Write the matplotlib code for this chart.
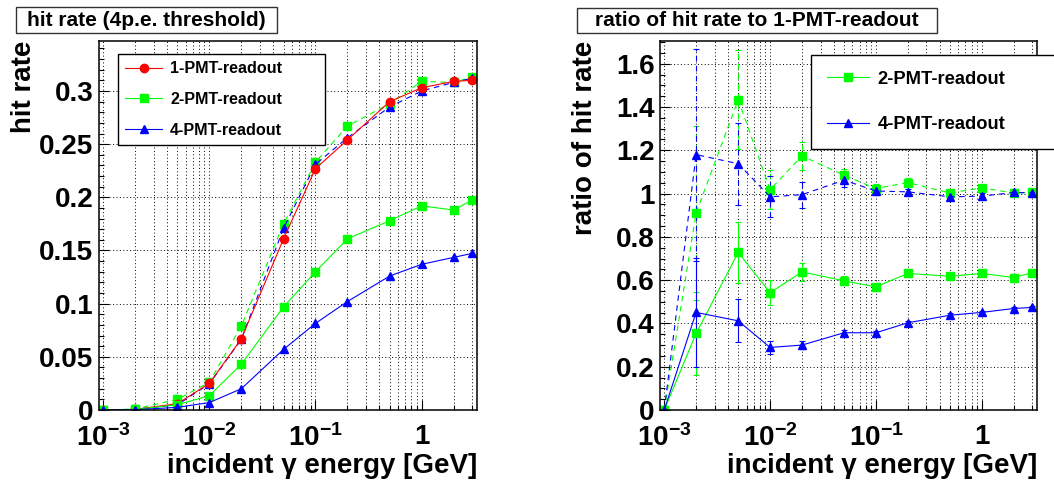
import matplotlib
matplotlib.use('Agg')
import matplotlib.pyplot as plt
from matplotlib.patches import Rectangle
from matplotlib.ticker import FixedLocator, FixedFormatter, MultipleLocator, LogLocator, NullFormatter

plt.rcParams['font.family'] = ['Liberation Sans', 'DejaVu Sans']
plt.rcParams['font.weight'] = 'bold'
plt.rcParams['axes.labelweight'] = 'bold'
plt.rcParams['mathtext.fontset'] = 'custom'
plt.rcParams['mathtext.rm'] = 'Liberation Sans:bold'
plt.rcParams['mathtext.it'] = 'Liberation Sans:bold'
plt.rcParams['mathtext.bf'] = 'Liberation Sans:bold'

# incident gamma energy [GeV]
energy = [1e-3, 2e-3, 5e-3, 1e-2, 2e-2, 5e-2, 0.1, 0.2, 0.5, 1, 2, 3]

# hit rate (4p.e. threshold)
rate_1pmt = [0.0, 0.0006, 0.006, 0.025, 0.067, 0.161, 0.227, 0.254, 0.290, 0.303, 0.309, 0.310]
rate_2pmt = [0.0, 0.0005, 0.005, 0.0135, 0.043, 0.097, 0.130, 0.161, 0.178, 0.192, 0.188, 0.1975]
rate_2pmt_dash = [0.0, 0.001, 0.010, 0.026, 0.079, 0.175, 0.233, 0.267, 0.288, 0.309, 0.308, 0.313]
rate_4pmt = [0.0, 0.0003, 0.0025, 0.007, 0.020, 0.057, 0.0815, 0.102, 0.126, 0.137, 0.1435, 0.1473]
rate_4pmt_dash = [0.0, 0.0005, 0.005, 0.0245, 0.0665, 0.171, 0.231, 0.256, 0.285, 0.300, 0.308, 0.312]

# ratio of hit rate to 1-PMT-readout
ratio_2pmt = [0.0, 0.354, 0.728, 0.542, 0.638, 0.597, 0.569, 0.631, 0.618, 0.631, 0.612, 0.635]
ratio_2pmt_err = [0.0, 0.19, 0.14, 0.057, 0.04, 0.02, 0.015, 0.012, 0.01, 0.01, 0.01, 0.01]
ratio_2pmt_dash = [0.0, 0.91, 1.434, 1.018, 1.174, 1.085, 1.023, 1.051, 1.003, 1.026, 1.003, 1.005]
ratio_2pmt_dash_err = [0.0, 0.40, 0.23, 0.09, 0.063, 0.03, 0.02, 0.02, 0.015, 0.015, 0.015, 0.015]
ratio_4pmt = [0.0, 0.451, 0.412, 0.289, 0.300, 0.357, 0.357, 0.403, 0.438, 0.451, 0.469, 0.474]
ratio_4pmt_err = [0.0, 0.25, 0.10, 0.03, 0.02, 0.012, 0.01, 0.008, 0.008, 0.008, 0.008, 0.008]
ratio_4pmt_dash = [0.0, 1.18, 1.138, 0.985, 0.995, 1.062, 1.012, 1.008, 0.985, 0.988, 1.005, 1.003]
ratio_4pmt_dash_err = [0.0, 0.49, 0.19, 0.095, 0.06, 0.03, 0.02, 0.015, 0.015, 0.015, 0.015, 0.015]

labels = ['1-PMT-readout', '2-PMT-readout', '4-PMT-readout']
xtick_pos = [1e-3, 1e-2, 1e-1, 1]
xtick_lab = [r'$10^{-3}$', r'$10^{-2}$', r'$10^{-1}$', '1']

RED, GREEN, BLUE = '#ff0000', '#00ff00', '#0000ff'
DASH = (0, (5, 4))
LW = 0.8
MS = 6

fig = plt.figure(figsize=(10.54, 4.8), dpi=100)
ax1 = fig.add_axes([0.0939, 0.1458, 0.3587, 0.7688])
ax2 = fig.add_axes([0.6262, 0.1458, 0.3577, 0.7688])


def style_axis(ax, ymax, ymajor, yminor):
    ax.set_xscale('log')
    ax.set_xlim(10 ** -3.04, 10 ** 0.522)
    ax.set_ylim(0, ymax)
    ax.xaxis.set_major_locator(FixedLocator(xtick_pos))
    ax.xaxis.set_major_formatter(FixedFormatter(xtick_lab))
    ax.xaxis.set_minor_locator(LogLocator(base=10, subs=range(2, 10), numticks=20))
    ax.xaxis.set_minor_formatter(NullFormatter())
    ax.yaxis.set_major_locator(MultipleLocator(ymajor))
    ax.yaxis.set_minor_locator(MultipleLocator(yminor))
    ax.tick_params(which='both', direction='in', width=0.8, labelsize=20)
    ax.tick_params(which='major', length=7)
    ax.tick_params(which='minor', length=3.6)
    ax.tick_params(axis='y', pad=4)
    ax.tick_params(axis='x', pad=10)
    ax.grid(which='both', axis='x', ls=(0, (1, 2.5)), color='k', lw=0.7)
    ax.grid(which='major', axis='y', ls=(0, (1, 2.5)), color='k', lw=0.7)
    for s in ax.spines.values():
        s.set_linewidth(1.1)
    ax.set_xlabel(u'incident \u03b3 energy [GeV]', fontsize=20, loc='right')
    ax.xaxis.set_label_coords(1.0, -0.116)


# left: hit rate
style_axis(ax1, 0.347, 0.05, 0.01)
ax1.yaxis.set_major_formatter(plt.FuncFormatter(lambda v, p: '0' if v == 0 else ('%g' % round(v, 3))))
ax1.plot(energy, rate_2pmt_dash, color=GREEN, ls=DASH, lw=LW, marker='s', ms=MS)
ax1.plot(energy, rate_4pmt_dash, color=BLUE, ls=DASH, lw=LW, marker='^', ms=MS)
l1, = ax1.plot(energy, rate_1pmt, color=RED, lw=LW, marker='o', ms=MS)
l2, = ax1.plot(energy, rate_2pmt, color=GREEN, lw=LW, marker='s', ms=MS)
l4, = ax1.plot(energy, rate_4pmt, color=BLUE, lw=LW, marker='^', ms=MS)
ax1.set_ylabel('hit rate', fontsize=20, loc='top')
ax1.yaxis.set_label_coords(-0.165, 1.0)
leg1 = ax1.legend([l1, l2, l4], labels, loc='upper left',
                  bbox_to_anchor=(0.050, 0.724, 0.548, 0.241), mode='expand',
                  fontsize=11.6, fancybox=False, edgecolor='k', framealpha=1,
                  borderpad=0.45, labelspacing=0.98, handlelength=2.3,
                  handletextpad=0.5, borderaxespad=0)
leg1.get_frame().set_linewidth(1.0)

# right: ratio
style_axis(ax2, 1.705, 0.2, 0.05)
ax2.yaxis.set_major_formatter(plt.FuncFormatter(lambda v, p: '0' if v == 0 else ('%g' % round(v, 2))))


def draw_err(ax, y, err, color, marker, dashed):
    eb = ax.errorbar(energy, y, yerr=err, color=color, lw=LW, marker=marker, ms=MS,
                     ls=DASH if dashed else '-', elinewidth=LW, capsize=2, capthick=LW)
    if dashed:
        eb[2][0].set_linestyle((0, (5, 4)))
    return eb


draw_err(ax2, ratio_2pmt_dash, ratio_2pmt_dash_err, GREEN, 's', True)
draw_err(ax2, ratio_4pmt_dash, ratio_4pmt_dash_err, BLUE, '^', True)
e2 = draw_err(ax2, ratio_2pmt, ratio_2pmt_err, GREEN, 's', False)
e4 = draw_err(ax2, ratio_4pmt, ratio_4pmt_err, BLUE, '^', False)
ax2.set_ylabel('ratio of hit rate', fontsize=20, loc='top')
ax2.yaxis.set_label_coords(-0.165, 1.0)
leg2 = ax2.legend([e2[0], e4[0]], labels[1:], loc='upper left',
                  bbox_to_anchor=(0.4005, 0.718, 0.70, 0.244), mode='expand',
                  fontsize=13.2, fancybox=False, edgecolor='k', framealpha=1,
                  borderpad=0.85, labelspacing=1.55, handlelength=2.34,
                  handletextpad=0.43, borderaxespad=0)
leg2.get_frame().set_linewidth(1.0)

# title boxes
for (x0, x1, y0, y1, txt) in [(16, 277, 7, 33, 'hit rate (4p.e. threshold)'),
                              (577, 937, 8, 33, 'ratio of hit rate to 1-PMT-readout')]:
    fig.add_artist(Rectangle((x0 / 1054, 1 - y1 / 480), (x1 - x0) / 1054, (y1 - y0) / 480,
                             transform=fig.transFigure, facecolor='white',
                             edgecolor='#333333', lw=1.0))
    fig.text((x0 + x1) / 2 / 1054, 1 - (y0 + y1) / 2 / 480, txt, fontsize=15,
             ha='center', va='center')

fig.savefig('out.png', dpi=100)
